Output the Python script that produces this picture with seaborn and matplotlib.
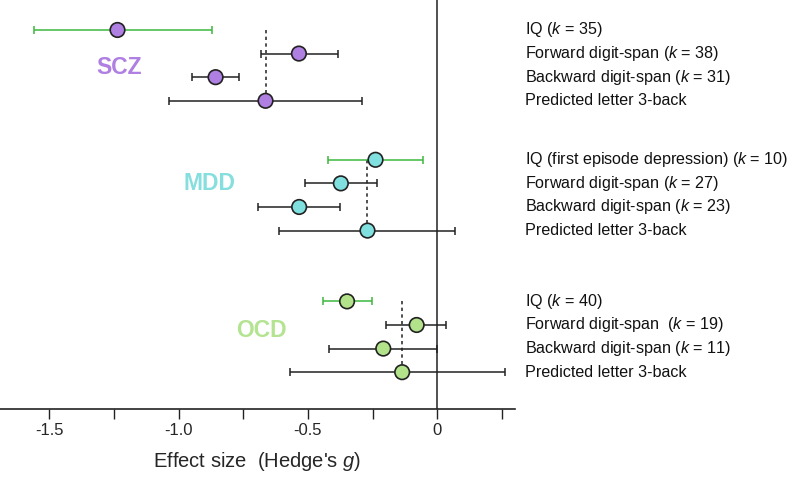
import numpy as np
import pandas as pd
import matplotlib.pyplot as plt
import seaborn as sns
from matplotlib.ticker import FixedLocator, FixedFormatter

# Effect sizes (Hedge's g) with 95% CI
groups = ["SCZ", "MDD", "OCD"]
labels = [
    ["IQ ($k$ = 35)", "Forward digit-span ($k$ = 38)",
     "Backward digit-span ($k$ = 31)", "Predicted letter 3-back"],
    ["IQ (first episode depression) ($k$ = 10)", "Forward digit-span ($k$ = 27)",
     "Backward digit-span ($k$ = 23)", "Predicted letter 3-back"],
    ["IQ ($k$ = 40)", "Forward digit-span  ($k$ = 19)",
     "Backward digit-span ($k$ = 11)", "Predicted letter 3-back"],
]
effect = [
    [-1.236, -0.535, -0.857, -0.664],
    [-0.239, -0.373, -0.534, -0.270],
    [-0.349, -0.080, -0.209, -0.136],
]
ci_low = [
    [-1.560, -0.683, -0.947, -1.036],
    [-0.424, -0.512, -0.693, -0.612],
    [-0.442, -0.198, -0.419, -0.571],
]
ci_high = [
    [-0.870, -0.385, -0.767, -0.293],
    [-0.057, -0.234, -0.375, 0.070],
    [-0.251, 0.034, -0.001, 0.260],
]

group_colors = {"SCZ": "#b07fe2", "MDD": "#80e0e0", "OCD": "#b2e28a"}
label_colors = {"SCZ": "#b07fe2", "MDD": "#86dede", "OCD": "#b4e492"}
group_start = [0, 5.5, 11.5]

rows = []
for g, name in enumerate(groups):
    for r in range(4):
        rows.append(dict(group=name, label=labels[g][r], y=group_start[g] + r,
                         g=effect[g][r], lo=ci_low[g][r], hi=ci_high[g][r],
                         iq=(r == 0)))
df = pd.DataFrame(rows)

sns.set_theme(style="white")
plt.rcParams['font.family'] = ['Liberation Sans', 'DejaVu Sans']
plt.rcParams['mathtext.fontset'] = 'custom'
plt.rcParams['mathtext.it'] = 'Liberation Sans:italic'
plt.rcParams['mathtext.rm'] = 'Liberation Sans'

fig = plt.figure(figsize=(7.92, 4.8), dpi=100)
ax = fig.add_axes([0.0, 1 - 409 / 480, 515 / 792, 409 / 480])

# zero line
ax.axvline(0, color="#333333", lw=1.2, zorder=1)

# CIs
for _, row in df.iterrows():
    col = "#3cb83c" if row.iq else "#222222"
    ax.errorbar(row.g, row.y, xerr=[[row.g - row.lo], [row.hi - row.g]],
                fmt="none", ecolor=col, elinewidth=1.1, capsize=3, capthick=1.1,
                zorder=2)

# dotted line from IQ row down to predicted 3-back
for name in groups:
    sub = df[df.group == name]
    pred = sub.iloc[3]
    ax.plot([pred.g, pred.g], [sub.y.min(), pred.y], ls=(0, (2, 2)),
            color="#333333", lw=1.2, zorder=1.5)

sns.scatterplot(data=df, x="g", y="y", hue="group", palette=group_colors,
                s=110, edgecolor="#222222", linewidth=1.2, legend=False,
                ax=ax, zorder=3)

# group labels
label_pos = {"SCZ": (-1.23, 1.6), "MDD": (-0.88, 6.5), "OCD": (-0.68, 12.75)}
for name in groups:
    x, y = label_pos[name]
    ax.text(x, y, name, color=label_colors[name], fontsize=16.5,
            fontweight="bold", ha="center", va="center")

# right-hand labels
for _, row in df.iterrows():
    ax.annotate(row.label, xy=(525 / 792, row.y),
                xycoords=("figure fraction", "data"),
                fontsize=11.6, va="center", ha="left", color="#111111",
                annotation_clip=False)

ax.set_xlim(-1.69, 0.30)
ax.set_ylim(16.06, -1.27)
ax.set_yticks([])
for s in ["top", "right", "left"]:
    ax.spines[s].set_visible(False)
ax.spines["bottom"].set_color("#222222")
ax.spines["bottom"].set_linewidth(1.2)

ax.xaxis.set_major_locator(FixedLocator([-1.5, -1.0, -0.5, 0]))
ax.xaxis.set_major_formatter(FixedFormatter(["-1.5", "-1.0", "-0.5", "0"]))
ax.xaxis.set_minor_locator(FixedLocator([-1.25, -0.75, -0.25, 0.25]))
ax.tick_params(axis="x", which="both", direction="out", length=7, width=1,
               color="#222222", bottom=True, labelsize=12, pad=3)
ax.set_xlabel("Effect size  (Hedge's $g$)", fontsize=14.5, labelpad=9)
ax.set_ylabel("")

fig.savefig("out.png", dpi=100)
